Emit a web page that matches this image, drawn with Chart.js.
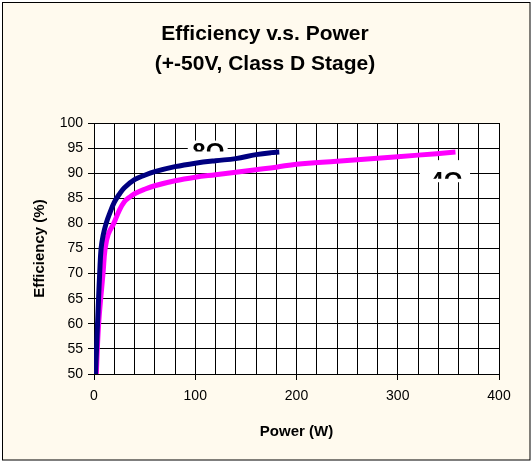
<!DOCTYPE html>
<html>
<head>
<meta charset="utf-8">
<script src="https://cdn.jsdelivr.net/npm/chart.js@4.4.0/dist/chart.umd.min.js"></script>
<style>
  body { margin: 0; background: #fff; }
  #wrap { width: 532px; height: 462px; }
</style>
</head>
<body>
<div id="wrap"><canvas id="eff-chart" width="532" height="462"></canvas></div>
<script>
// 8 ohm load (navy curve)
const power8 = [1.5, 2.5, 3.5, 4.5, 5.6, 7, 9, 12, 15.5, 20, 25, 30, 40, 50, 60, 80, 100, 120, 140, 160, 175, 183];
const eff8 = [50, 55, 60, 65, 70, 75, 77.6, 80, 82, 84.2, 85.8, 87.1, 88.7, 89.6, 90.3, 91.3, 92, 92.5, 92.9, 93.7, 94.1, 94.2];

// 4 ohm load (magenta curve)
const power4 = [2.3, 3.3, 4.6, 6.6, 8.9, 11, 14, 19.5, 25, 30, 35, 40, 50, 60, 80, 100, 120, 140, 160, 180, 200, 240, 280, 320, 357];
const eff4 = [50, 55, 60, 65, 70, 75, 77.8, 80, 82.6, 84.3, 85.2, 85.9, 86.8, 87.5, 88.5, 89.2, 89.7, 90.2, 90.7, 91.2, 91.8, 92.4, 93.0, 93.6, 94.2];

const titleLines = ['Efficiency v.s. Power', '(+-50V, Class D Stage)'];
const FONT = "Arial, 'Liberation Sans', sans-serif";

// half hidden load labels (box and text given in axis units)
const loadLabels = [
    { text: '8Ω', x: 97, y: 92.6, box: [92.6, 96.5, 132, 92.0], clip: [96.5, 94.3] },
    { text: '4Ω', x: 332, y: 86.8, box: [321.7, 92.6, 371.4, 88.2], clip: [92.6, 88.9] }
];

function toPoints(xs, ys) {
    return xs.map((x, i) => ({ x: x, y: ys[i] }));
}

const backgroundPlugin = {
    id: 'background',
    beforeDraw(chart) {
        const { ctx, chartArea: a } = chart;
        ctx.save();
        ctx.fillStyle = '#ffffff';
        ctx.fillRect(0, 0, chart.width, chart.height);
        ctx.fillStyle = '#FFFAEE';
        ctx.fillRect(2.5, 2.5, 527.5, 457.5);
        ctx.strokeStyle = '#000';
        ctx.lineWidth = 1;
        ctx.strokeRect(2.5, 2.5, 527.5, 457.5);
        ctx.fillStyle = '#ffffff';
        ctx.fillRect(a.left, a.top, a.right - a.left, a.bottom - a.top);

        // chart title
        ctx.fillStyle = '#000';
        ctx.font = 'bold 21px ' + FONT;
        ctx.textAlign = 'center';
        ctx.textBaseline = 'middle';
        titleLines.forEach((t, i) => ctx.fillText(t, 265, 34 + i * 30));
        ctx.restore();
    }
};

const labelPlugin = {
    id: 'loadLabels',
    beforeDatasetsDraw(chart) {
        const { ctx, scales: { x, y } } = chart;
        ctx.save();
        loadLabels.forEach(l => {
            const bx0 = x.getPixelForValue(l.box[0]), bx1 = x.getPixelForValue(l.box[2]);
            const by0 = y.getPixelForValue(l.box[1]), by1 = y.getPixelForValue(l.box[3]);
            ctx.fillStyle = '#ffffff';
            ctx.fillRect(bx0, by0, bx1 - bx0, by1 - by0);
            ctx.save();
            const cy0 = y.getPixelForValue(l.clip[0]), cy1 = y.getPixelForValue(l.clip[1]);
            ctx.beginPath();
            ctx.rect(bx0, cy0, bx1 - bx0, cy1 - cy0);
            ctx.clip();
            ctx.fillStyle = '#000';
            ctx.font = 'bold 24px ' + FONT;
            ctx.textBaseline = 'alphabetic';
            ctx.fillText(l.text, x.getPixelForValue(l.x), y.getPixelForValue(l.y));
            ctx.restore();
        });
        ctx.restore();
    }
};

new Chart(document.getElementById('eff-chart'), {
    type: 'scatter',
    data: {
        datasets: [{
            label: '8 ohm',
            data: toPoints(power8, eff8),
            showLine: true,
            borderColor: '#000080',
            borderWidth: 5,
            pointRadius: 0,
            tension: 0.4
        }, {
            label: '4 ohm',
            data: toPoints(power4, eff4),
            showLine: true,
            borderColor: '#FF00FF',
            borderWidth: 5,
            pointRadius: 0,
            tension: 0.4
        }]
    },
    options: {
        responsive: false,
        animation: false,
        devicePixelRatio: 1,
        layout: { padding: { top: 123, left: 0, right: 33, bottom: 0 } },
        plugins: {
            legend: { display: false },
            tooltip: { enabled: false },
            title: { display: false }
        },
        scales: {
            x: {
                type: 'linear',
                min: 0,
                max: 400,
                afterFit(scale) { scale.height = 88; },
                border: { color: '#000', width: 1 },
                grid: {
                    color: '#000',
                    lineWidth: 1,
                    tickLength: 6,
                    tickColor: ctx => (ctx.tick && ctx.tick.value % 100 === 0) ? '#000' : 'rgba(0,0,0,0)'
                },
                ticks: {
                    stepSize: 20,
                    autoSkip: false,
                    maxRotation: 0,
                    padding: 8,
                    color: '#000',
                    font: { family: FONT, size: 14 },
                    callback: v => (v % 100 === 0 ? v : '')
                },
                title: {
                    display: true,
                    text: 'Power (W)',
                    color: '#000',
                    font: { family: FONT, size: 15, weight: 'bold', lineHeight: 1.2 },
                    padding: { top: 0, bottom: 21 }
                }
            },
            y: {
                min: 50,
                max: 100,
                afterFit(scale) { scale.width = 94; },
                border: { color: '#000', width: 1 },
                grid: { color: '#000', lineWidth: 1, tickLength: 6, tickColor: '#000' },
                ticks: {
                    stepSize: 5,
                    padding: 5,
                    color: '#000',
                    font: { family: FONT, size: 14 }
                },
                title: {
                    display: true,
                    text: 'Efficiency (%)',
                    color: '#000',
                    font: { family: FONT, size: 15, weight: 'bold', lineHeight: 1.2 },
                    padding: { top: 31, bottom: 0 }
                }
            }
        }
    },
    plugins: [backgroundPlugin, labelPlugin]
});
</script>
</body>
</html>
